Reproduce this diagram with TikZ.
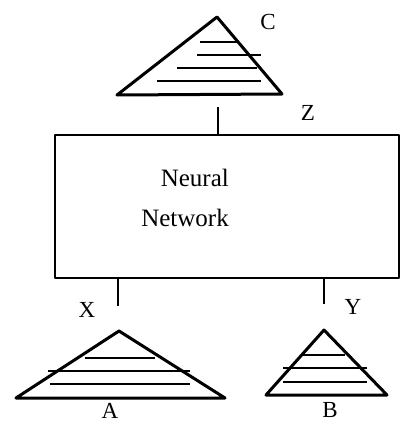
\documentclass[tikz,border=0pt]{standalone}
\usepackage{fontspec}
\setmainfont{Liberation Serif}
\usetikzlibrary{positioning}

\begin{document}
\begin{tikzpicture}[x=1pt,y=-1pt,line join=round,
    edge/.style={line width=3pt},
    stroke/.style={line width=2.6pt},
    stem/.style={line width=2.4pt},
    tag/.style={font=\fontsize{23}{26}\selectfont,inner sep=0pt}]
  \useasboundingbox (0,0) rectangle (400,423);

  % network box
  \node[draw,line width=2.4pt,minimum width=344pt,minimum height=143pt,
        inner sep=0pt,anchor=north west] (net) at (54,134) {};
  \node[anchor=east,align=right,inner sep=0pt,
        font=\fontsize{25}{40}\selectfont] (netlabel) at (229,198)
        {Neural\\Network};

  % tree C
  \draw[edge] (217,17) -- (282,94) -- (117,95) -- cycle;
  \draw[stroke] (200,42) -- (237,42);
  \draw[stroke] (197,55) -- (261,55);
  \draw[stroke] (177,68) -- (257,68);
  \draw[stroke] (157,81) -- (261,81);
  \node[tag] (c) at (268,22) {C};

  % tree A
  \draw[edge] (119,331) -- (225,398) -- (16,398) -- cycle;
  \draw[stroke] (85,358) -- (155,358);
  \draw[stroke] (48,371) -- (190,371);
  \draw[stroke] (50,384) -- (190,384);
  \node[tag] (a) at (110,411) {A};

  % tree B
  \draw[edge] (324,330) -- (387,395) -- (266,395) -- cycle;
  \draw[stroke] (303,355) -- (345,355);
  \draw[stroke] (283,368) -- (367,368);
  \draw[stroke] (283,382) -- (367,382);
  \node[tag] (b) at (330,410) {B};

  % ports
  \coordinate (zend) at (218,107);
  \coordinate (xend) at (118,306);
  \coordinate (yend) at (324,304);
  \draw[stem] (net.north -| zend) -- (zend);
  \draw[stem] (net.south -| xend) -- (xend);
  \draw[stem] (net.south -| yend) -- (yend);
  \node[tag] (z) at (308,113) {Z};
  \node[tag] (x) at (87,310) {X};
  \node[tag] (y) at (353,307) {Y};
\end{tikzpicture}
\end{document}
